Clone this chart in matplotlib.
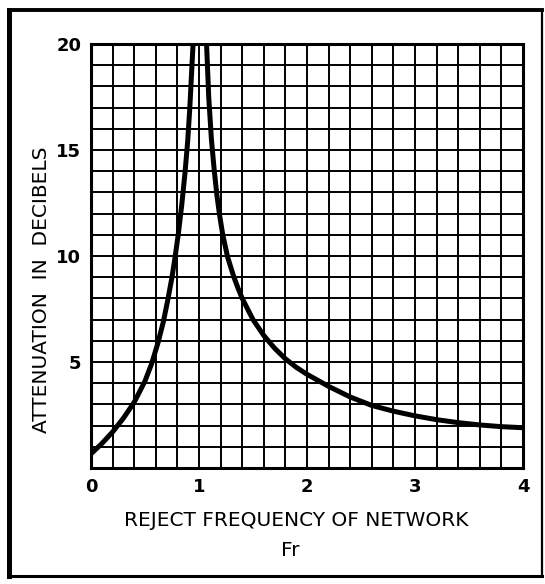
import matplotlib
matplotlib.use("Agg")
import matplotlib.pyplot as plt
from matplotlib.lines import Line2D

# values (local grid)
left_fr = [0.0, 0.1, 0.2, 0.3, 0.4, 0.5, 0.56, 0.62, 0.67, 0.71, 0.75,
           0.78, 0.81, 0.84, 0.87, 0.895, 0.915, 0.93, 0.945]
left_db = [0.67, 1.15, 1.7, 2.35, 3.1, 4.1, 4.9, 5.9, 6.9, 7.9, 9.0,
           10.0, 11.1, 12.4, 13.9, 15.4, 17.0, 18.5, 20.0]

right_fr = [1.07, 1.09, 1.115, 1.14, 1.165, 1.19, 1.22, 1.265, 1.32, 1.36,
            1.4, 1.5, 1.6, 1.7, 1.8, 1.9, 2.0, 2.2, 2.4, 2.6, 2.8, 3.0, 3.2,
            3.4, 3.6, 3.8, 4.0]
right_db = [20.0, 17.5, 15.5, 14.1, 12.9, 11.95, 11.0, 9.95, 9.05, 8.5,
            8.0, 7.0, 6.25, 5.65, 5.15, 4.75, 4.42, 3.85, 3.35, 2.95, 2.68,
            2.46, 2.28, 2.14, 2.03, 1.95, 1.9]

x_ticks = [0, 1, 2, 3, 4]
y_ticks = [5, 10, 15, 20]

W, H = 545, 584
fig = plt.figure(figsize=(W / 100, H / 100), dpi=100)
ax = fig.add_axes([91 / W, (H - 468) / H, 432 / W, 424 / H])

ax.set_xlim(0, 4)
ax.set_ylim(0, 20)
ax.set_xticks(x_ticks)
ax.set_yticks(y_ticks)
ax.set_xticks([i * 0.2 for i in range(21)], minor=True)
ax.set_yticks(list(range(21)), minor=True)
ax.grid(which="both", color="black", linewidth=1.4)
ax.set_axisbelow(True)
ax.tick_params(which="both", length=0, labelsize=13, pad=7)
for lab in ax.get_xticklabels() + ax.get_yticklabels():
    lab.set_fontweight("bold")
for s in ax.spines.values():
    s.set_linewidth(2.2)

ax.plot(left_fr, left_db, color="black", lw=3.6, solid_capstyle="butt",
        solid_joinstyle="round")
ax.plot(right_fr, right_db, color="black", lw=3.6, solid_capstyle="butt",
        solid_joinstyle="round")

ax.set_ylabel("ATTENUATION  IN  DECIBELS", fontsize=14.5)
ax.yaxis.set_label_coords(-0.093, 0.42)
fig.text(296 / W, 1 - 521 / H, "REJECT FREQUENCY OF NETWORK", fontsize=14.5,
         ha="center", va="center")
fig.text(290 / W, 1 - 550 / H, "Fr", fontsize=14.5, ha="center", va="center")

# outer frame of the scan, heavier on the left and top
x0, x1 = 9 / W, 542 / W
y0, y1 = 1 - 576 / H, 1 - 10 / H
for xs, ys, lw in [([x0, x0], [y0, y1], 3.6), ([x0, x1], [y1, y1], 2.8),
                   ([x1, x1], [y0, y1], 1.6), ([x0, x1], [y0, y0], 2.2)]:
    fig.add_artist(Line2D(xs, ys, transform=fig.transFigure, color="black",
                          linewidth=lw, solid_capstyle="projecting"))

fig.savefig("out.png", dpi=100)
